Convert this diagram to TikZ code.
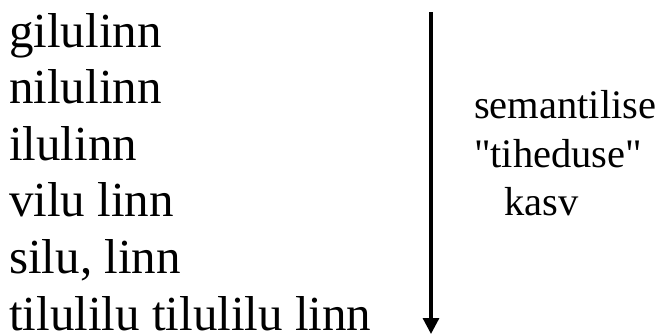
\documentclass[tikz,border=0pt]{standalone}
\usepackage{fontspec}
\setmainfont{Liberation Serif}
\usetikzlibrary{arrows.meta}
\begin{document}
\begin{tikzpicture}[x=1bp,y=-1bp,
  lefttxt/.style={anchor=base west,inner sep=0pt,font=\fontsize{49bp}{49bp}\selectfont},
  righttxt/.style={anchor=base west,inner sep=0pt,font=\fontsize{40.5bp}{40.5bp}\selectfont},
  arr/.style={line width=3.2bp,-{Triangle[length=16bp,width=16bp]}}]
\useasboundingbox (0,0) rectangle (664,335);
\node[lefttxt] (l1) at (9,47) {gilulinn};
\node[lefttxt] (l2) at (9,103.6) {nilulinn};
\node[lefttxt] (l3) at (9,160.2) {ilulinn};
\node[lefttxt] (l4) at (9,216.8) {vilu linn};
\node[lefttxt] (l5) at (9,273.4) {silu, linn};
\node[lefttxt] (l6) at (9,330) {tilulilu tilulilu linn};
\node[righttxt] (r1) at (474,118) {semantilise};
\node[righttxt] (r2) at (474,167) {\textquotedbl tiheduse\textquotedbl};
\node[righttxt] (r3) at (504,215) {kasv};
\coordinate (atop) at (431,12);
\coordinate (abot) at (431,334);
\draw[arr] (atop) -- (abot);
\end{tikzpicture}
\end{document}
